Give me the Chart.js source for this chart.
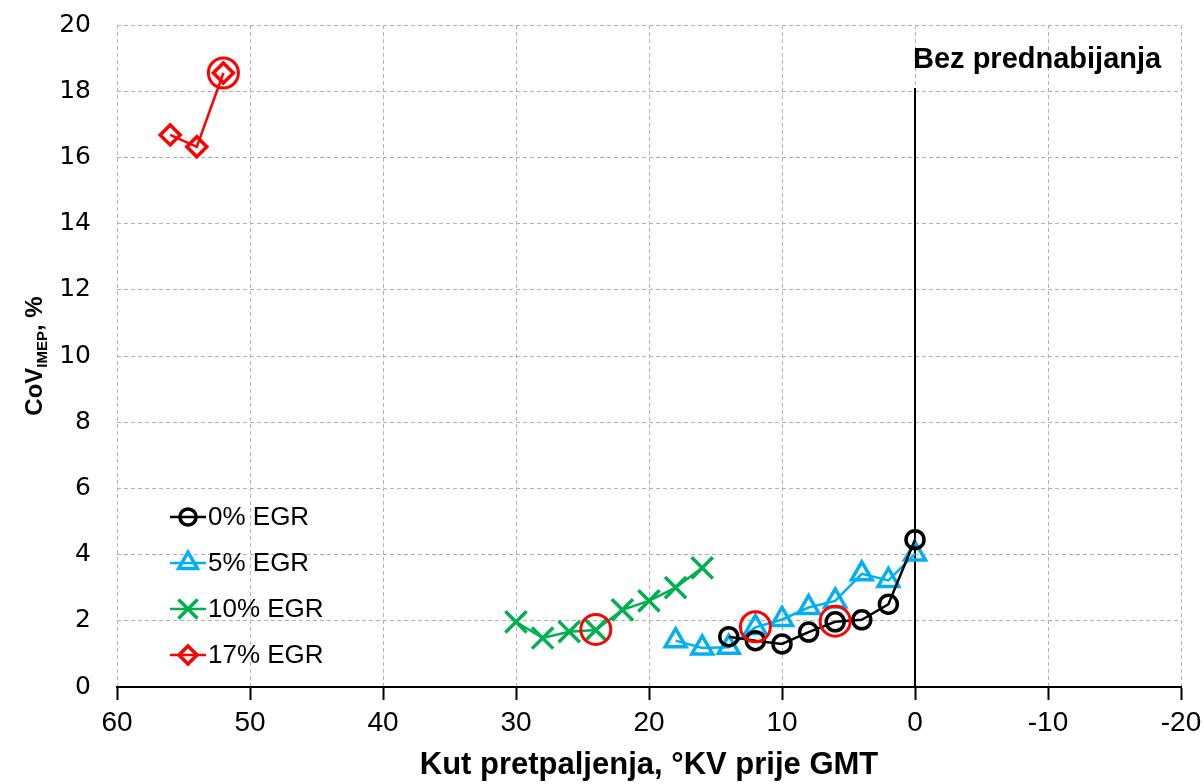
<!DOCTYPE html>
<html><head><meta charset="utf-8">
<script src="https://cdn.jsdelivr.net/npm/chart.js@4/dist/chart.umd.min.js"></script>
<style>html,body{margin:0;padding:0;background:#fff}#wrap{width:1204px;height:784px}</style>
</head><body><div id="wrap"><canvas id="c" width="1204" height="784"></canvas></div>
<script>
const xTicks = [60, 50, 40, 30, 20, 10, 0, -10, -20];
const yTicks = [0, 2, 4, 6, 8, 10, 12, 14, 16, 18, 20];

const egr0X = [14, 12, 10, 8, 6, 4, 2, 0];
const egr0Y = [1.52, 1.4, 1.3, 1.66, 1.97, 2.03, 2.5, 4.45];

const egr5X = [18, 16, 14, 12, 10, 8, 6, 4, 2, 0];
const egr5Y = [1.4, 1.18, 1.2, 1.8, 2.04, 2.4, 2.6, 3.42, 3.22, 4.02];

const egr10X = [30, 28, 26, 24, 22, 20, 18, 16];
const egr10Y = [1.97, 1.48, 1.67, 1.72, 2.33, 2.6, 3.0, 3.6];

const egr17X = [56, 54, 52];
const egr17Y = [16.68, 16.32, 18.55];

const markedX = [52, 24, 12, 6];
const markedY = [18.55, 1.74, 1.82, 1.99];

const refLineX = [0, 0];
const refLineY = [0, 18.1];
const refLabel = 'Bez prednabijanja';

const seriesNames = ['0% EGR', '5% EGR', '10% EGR', '17% EGR'];
const xTitle = 'Kut pretpaljenja, °KV prije GMT';

const pts = (xs, ys) => xs.map((x, i) => ({x: x, y: ys[i]}));

const NARROW = '"Liberation Sans Narrow", "Liberation Sans", Arial, sans-serif';

const series = [
  {label: seriesNames[0], data: pts(egr0X, egr0Y), borderColor: '#000000', pointStyle: 'circle', pointRadius: 9},
  {label: seriesNames[1], data: pts(egr5X, egr5Y), borderColor: '#00B0F0', pointStyle: 'triangle', pointRadius: 12},
  {label: seriesNames[2], data: pts(egr10X, egr10Y), borderColor: '#00B050', pointStyle: 'crossRot', pointRadius: 15},
  {label: seriesNames[3], data: pts(egr17X, egr17Y), borderColor: '#FF0000', pointStyle: 'rectRot', pointRadius: 10}
].map(s => Object.assign(s, {
  type: 'line', showLine: true, borderWidth: 2.5, pointBorderWidth: 3.5,
  pointBorderColor: s.borderColor, pointBackgroundColor: 'rgba(0,0,0,0)', backgroundColor: 'rgba(0,0,0,0)',
  fill: false, tension: 0, pointHoverRadius: s.pointRadius
}));

const datasets = [
  {label: 'marked', data: pts(markedX, markedY), type: 'scatter', showLine: false, pointStyle: 'circle',
   pointRadius: 15, pointBorderWidth: 3, pointBorderColor: '#FF0000', pointBackgroundColor: 'rgba(0,0,0,0)', order: 0},
  ...series.map((s, i) => Object.assign(s, {order: 1 + i})),
  {label: 'ref', data: pts(refLineX, refLineY), type: 'line', showLine: true, borderColor: '#000000', borderWidth: 2,
   pointRadius: 0, fill: false, order: 10}
];

const overlay = {
  id: 'overlay',
  afterDraw(chart) {
    const ctx = chart.ctx;
    const xs = chart.scales.x, ys = chart.scales.y;
    // reference label
    ctx.save();
    ctx.fillStyle = '#000';
    ctx.font = 'bold 29px ' + NARROW;
    ctx.textAlign = 'left';
    ctx.textBaseline = 'alphabetic';
    ctx.fillText(refLabel, xs.getPixelForValue(0) - 2, ys.getPixelForValue(refLineY[1]) - 20);
    ctx.restore();

    // legend
    const lx0 = 170, lx1 = 206, mx = 188, tx = 208;
    const rowY = [517, 563, 609, 655];
    series.forEach((s, i) => {
      const y = rowY[i];
      ctx.save();
      ctx.strokeStyle = s.borderColor;
      ctx.lineWidth = 2.5;
      ctx.beginPath(); ctx.moveTo(lx0, y); ctx.lineTo(lx1, y); ctx.stroke();
      ctx.lineWidth = 3.5;
      ctx.strokeStyle = s.borderColor;
      ctx.fillStyle = 'rgba(0,0,0,0)';
      Chart.helpers.drawPoint(ctx, {pointStyle: s.pointStyle, radius: s.pointRadius * 0.9, rotation: 0, borderWidth: 3.5}, mx, y);
      ctx.fillStyle = '#000';
      ctx.font = '26px ' + NARROW;
      ctx.textAlign = 'left';
      ctx.textBaseline = 'middle';
      ctx.fillText(s.label, tx, y + 1);
      ctx.restore();
    });

    // y title with subscript
    ctx.save();
    ctx.translate(34, (chart.chartArea.top + chart.chartArea.bottom) / 2);
    ctx.rotate(-Math.PI / 2);
    ctx.fillStyle = '#000';
    const f1 = 'bold 24px ' + NARROW, f2 = 'bold 15px ' + NARROW;
    ctx.font = f1; const w1 = ctx.measureText('CoV').width; const w3 = ctx.measureText(', %').width;
    ctx.font = f2; const w2 = ctx.measureText('IMEP').width;
    let x = -(w1 + w2 + w3) / 2;
    ctx.textBaseline = 'alphabetic';
    ctx.font = f1; ctx.fillText('CoV', x, 8); x += w1;
    ctx.font = f2; ctx.fillText('IMEP', x, 13); x += w2;
    ctx.font = f1; ctx.fillText(', %', x, 8);
    ctx.restore();
  }
};

new Chart(document.getElementById('c'), {
  data: {datasets: datasets},
  options: {
    responsive: false, animation: false, devicePixelRatio: 1,
    layout: {padding: {left: 0, right: 23, top: 25, bottom: 0}},
    plugins: {legend: {display: false}, tooltip: {enabled: false}},
    scales: {
      x: {
        type: 'linear', reverse: true, min: -20, max: 60,
        afterBuildTicks: s => { s.ticks = xTicks.map(v => ({value: v})); },
        afterFit: s => { s.height = 97; s.paddingLeft = 0; s.paddingRight = 0; },
        grid: {color: '#b0b0b0', lineWidth: 1, drawTicks: true, tickLength: 13, tickColor: '#000', tickWidth: 2},
        border: {display: true, color: '#000', width: 2, dash: [4, 3]},
        ticks: {color: '#000', font: {family: NARROW, size: 28}, padding: 6, maxRotation: 0},
        title: {display: true, text: xTitle, color: '#000', font: {family: NARROW, size: 31, weight: 'bold'}, padding: {top: 0, bottom: 0}}
      },
      y: {
        type: 'linear', min: 0, max: 20,
        afterBuildTicks: s => { s.ticks = yTicks.map(v => ({value: v})); },
        afterFit: s => { s.width = 117; s.paddingTop = 0; s.paddingBottom = 0; },
        grid: {color: '#b0b0b0', lineWidth: 1, drawTicks: false},
        border: {display: false, dash: [4, 3]},
        ticks: {color: '#000', font: {family: '"DejaVu Sans", Verdana, sans-serif', size: 25}, padding: 26}
      }
    }
  },
  plugins: [overlay]
});
</script></body></html>
